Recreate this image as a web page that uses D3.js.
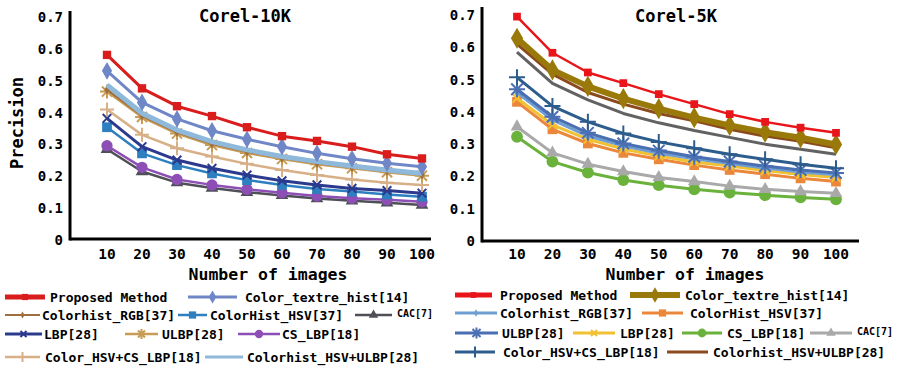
<!DOCTYPE html>
<html>
<head>
<meta charset="utf-8">
<script src="https://cdn.jsdelivr.net/npm/d3@7"></script>
<style>
  body { margin: 0; background: #fff; }
  svg { display: block; font-family: "DejaVu Sans Mono", monospace; font-weight: bold; }
</style>
</head>
<body>
<svg id="chart" width="899" height="370"></svg>
<script>
// number of retrieved images (x axis)
var imageCounts = [10, 20, 30, 40, 50, 60, 70, 80, 90, 100];
var precisionTicks = [0, 0.1, 0.2, 0.3, 0.4, 0.5, 0.6, 0.7];

// Corel-10K precision values
var c10Proposed   = [0.581, 0.476, 0.420, 0.389, 0.354, 0.326, 0.311, 0.293, 0.269, 0.256];
var c10Textre     = [0.531, 0.432, 0.380, 0.343, 0.316, 0.293, 0.272, 0.255, 0.241, 0.230];
var c10HsvUlbp    = [0.487, 0.398, 0.345, 0.309, 0.283, 0.262, 0.246, 0.232, 0.220, 0.209];
var c10RGB        = [0.472, 0.390, 0.338, 0.302, 0.277, 0.257, 0.241, 0.228, 0.216, 0.205];
var c10ULBP       = [0.466, 0.386, 0.334, 0.298, 0.273, 0.254, 0.238, 0.225, 0.213, 0.202];
var c10HsvCsLbp   = [0.410, 0.330, 0.288, 0.262, 0.239, 0.220, 0.204, 0.190, 0.180, 0.173];
var c10LBP        = [0.382, 0.293, 0.251, 0.225, 0.204, 0.186, 0.173, 0.162, 0.155, 0.147];
var c10HSV        = [0.354, 0.272, 0.235, 0.209, 0.188, 0.173, 0.160, 0.152, 0.143, 0.136];
var c10CsLbp      = [0.296, 0.228, 0.190, 0.173, 0.159, 0.148, 0.138, 0.131, 0.126, 0.120];
var c10CAC        = [0.285, 0.215, 0.180, 0.163, 0.150, 0.140, 0.130, 0.123, 0.117, 0.110];

// Corel-5K precision values
var c5Proposed    = [0.695, 0.583, 0.522, 0.489, 0.455, 0.424, 0.393, 0.369, 0.351, 0.335];
var c5Textre      = [0.628, 0.530, 0.479, 0.441, 0.410, 0.382, 0.358, 0.337, 0.320, 0.299];
var c5HsvUlbp     = [0.610, 0.517, 0.460, 0.424, 0.395, 0.372, 0.346, 0.325, 0.309, 0.289];
var c5Gray        = [0.585, 0.488, 0.437, 0.395, 0.366, 0.342, 0.321, 0.300, 0.284, 0.269];
var c5HsvCsLbp    = [0.507, 0.418, 0.369, 0.333, 0.307, 0.287, 0.269, 0.253, 0.238, 0.225];
var c5ULBP        = [0.470, 0.385, 0.335, 0.302, 0.280, 0.261, 0.246, 0.232, 0.220, 0.211];
var c5RGB         = [0.460, 0.375, 0.325, 0.295, 0.272, 0.255, 0.240, 0.226, 0.214, 0.205];
var c5LBP         = [0.442, 0.360, 0.315, 0.285, 0.263, 0.245, 0.232, 0.218, 0.206, 0.197];
var c5HSV         = [0.431, 0.346, 0.302, 0.273, 0.253, 0.235, 0.220, 0.207, 0.194, 0.184];
var c5CAC         = [0.354, 0.273, 0.238, 0.215, 0.197, 0.184, 0.170, 0.160, 0.153, 0.148];
var c5CsLbp       = [0.323, 0.246, 0.212, 0.189, 0.173, 0.160, 0.150, 0.142, 0.135, 0.129];

var svg = d3.select('#chart');

// stroke-only markers (plus, x, asterisk) drawn by hand
function strokeMarker(type, r) {
  var p = d3.path();
  if (type === 'plus' || type === 'asterisk') {
    p.moveTo(-r, 0); p.lineTo(r, 0);
    p.moveTo(0, -r); p.lineTo(0, r);
  }
  if (type === 'times' || type === 'asterisk') {
    var d = r * 0.72;
    p.moveTo(-d, -d); p.lineTo(d, d);
    p.moveTo(-d, d); p.lineTo(d, -d);
  }
  return p.toString();
}

var fillSymbols = {
  square: d3.symbolSquare,
  diamond: d3.symbolDiamond,
  circle: d3.symbolCircle,
  triangle: d3.symbolTriangle
};

function drawMarker(g, x, y, s) {
  if (!s.marker) return;
  if (fillSymbols[s.marker]) {
    g.append('path')
      .attr('transform', 'translate(' + x + ',' + y + ')')
      .attr('d', d3.symbol().type(fillSymbols[s.marker]).size(s.size)())
      .attr('fill', s.color);
  } else {
    g.append('path')
      .attr('transform', 'translate(' + x + ',' + y + ')')
      .attr('d', strokeMarker(s.marker, s.size))
      .attr('stroke', s.color)
      .attr('stroke-width', 2)
      .attr('fill', 'none');
  }
}

function drawPanel(panel) {
  var x = d3.scaleLinear().domain([10, 100]).range(panel.xRange);
  var y = d3.scaleLinear().domain([0, 0.7]).range(panel.yRange);
  var g = svg.append('g');

  // axes
  g.append('line')
    .attr('x1', panel.axisX).attr('y1', panel.axisTop)
    .attr('x2', panel.axisX).attr('y2', panel.axisY + 1.5)
    .attr('stroke', '#000').attr('stroke-width', 3);
  g.append('line')
    .attr('x1', panel.axisX).attr('y1', panel.axisY)
    .attr('x2', panel.axisRight).attr('y2', panel.axisY)
    .attr('stroke', '#000').attr('stroke-width', 3);

  g.selectAll('.ytick').data(precisionTicks).enter().append('text')
    .attr('x', panel.axisX - 7)
    .attr('y', function(d) { return y(d) + 5; })
    .attr('text-anchor', 'end')
    .attr('font-size', 14)
    .text(function(d) { return d === 0 ? '0' : d3.format('.1f')(d); });

  g.selectAll('.xtick').data(imageCounts).enter().append('text')
    .attr('x', function(d) { return x(d); })
    .attr('y', 259)
    .attr('text-anchor', 'middle')
    .attr('font-size', 14.5)
    .text(function(d) { return d; });

  g.append('text')
    .attr('x', panel.titleX).attr('y', 22)
    .attr('text-anchor', 'middle').attr('font-size', 17)
    .text(panel.title);

  g.append('text')
    .attr('x', panel.xLabelX).attr('y', 280)
    .attr('text-anchor', 'middle').attr('font-size', 16.5)
    .text('Number of images');

  if (panel.yLabel) {
    g.append('text')
      .attr('transform', 'translate(23,123) rotate(-90)')
      .attr('text-anchor', 'middle').attr('font-size', 17)
      .text(panel.yLabel);
  }

  var line = d3.line()
    .x(function(d, i) { return x(imageCounts[i]); })
    .y(function(d) { return y(d); });

  panel.series.forEach(function(s) {
    g.append('path')
      .attr('d', line(s.values))
      .attr('fill', 'none')
      .attr('stroke', s.color)
      .attr('stroke-width', s.width)
      .attr('stroke-linejoin', 'round');
    s.values.forEach(function(v, i) {
      drawMarker(g, x(imageCounts[i]), y(v), s);
    });
  });

  // legend
  panel.legend.forEach(function(item) {
    var s = panel.series.filter(function(d) { return d.name === item[0]; })[0];
    var ly = item[4];
    g.append('line')
      .attr('x1', item[1]).attr('y1', ly)
      .attr('x2', item[2]).attr('y2', ly)
      .attr('stroke', s.color)
      .attr('stroke-width', s.legendWidth || s.width);
    drawMarker(g, (item[1] + item[2]) / 2, ly, {
      marker: s.marker, color: s.color,
      size: s.marker && fillSymbols[s.marker] ? s.size * 0.55 : s.size * 0.7
    });
    var small = s.name === 'CAC[7]';
    g.append('text')
      .attr('x', item[3])
      .attr('y', ly + (small ? 2 : 5))
      .attr('font-size', small ? 10 : 13)
      .text(s.name);
  });
}

var panels = [
  {
    title: 'Corel-10K', titleX: 245, xLabelX: 268, yLabel: 'Precision',
    xRange: [107, 422], yRange: [240, 17],
    axisX: 70, axisTop: 11, axisY: 239, axisRight: 431,
    series: [
      { name: 'CAC[7]', values: c10CAC, color: '#4f4f57', width: 2.5, marker: 'triangle', size: 70 },
      { name: 'CS_LBP[18]', values: c10CsLbp, color: '#8d4fb6', width: 2.5, marker: 'circle', size: 100 },
      { name: 'ColorHist_HSV[37]', values: c10HSV, color: '#2d7fbf', width: 2.5, marker: 'square', size: 95 },
      { name: 'LBP[28]', values: c10LBP, color: '#2c3a8e', width: 3, marker: 'times', size: 6 },
      { name: 'Color_HSV+CS_LBP[18]', values: c10HsvCsLbp, color: '#d8b088', width: 2.5, marker: 'plus', size: 7 },
      { name: 'ULBP[28]', values: c10ULBP, color: '#c89c55', width: 2.5, marker: 'asterisk', size: 7 },
      { name: 'Colorhist_RGB[37]', values: c10RGB, color: '#a06f3e', width: 2, marker: 'diamond', size: 25 },
      { name: 'Colorhist_HSV+ULBP[28]', values: c10HsvUlbp, color: '#8fb9da', width: 5, legendWidth: 3 },
      { name: 'Color_textre_hist[14]', values: c10Textre, color: '#6f87c6', width: 3, marker: 'diamond', size: 90 },
      { name: 'Proposed Method', values: c10Proposed, color: '#d91c1c', width: 3, legendWidth: 5, marker: 'square', size: 70 }
    ],
    legend: [
      ['Proposed Method', 5, 45, 50, 297],
      ['Color_textre_hist[14]', 188, 237, 245, 297],
      ['Colorhist_RGB[37]', 5, 40, 42, 315],
      ['ColorHist_HSV[37]', 178, 207, 210, 315],
      ['CAC[7]', 355, 392, 397, 315],
      ['LBP[28]', 5, 42, 44, 334],
      ['ULBP[28]', 125, 158, 162, 334],
      ['CS_LBP[18]', 238, 280, 282, 334],
      ['Color_HSV+CS_LBP[18]', 5, 40, 45, 357],
      ['Colorhist_HSV+ULBP[28]', 205, 243, 247, 357]
    ]
  },
  {
    title: 'Corel-5K', titleX: 676, xLabelX: 685, yLabel: null,
    xRange: [517, 836], yRange: [241, 15],
    axisX: 482, axisTop: 7, axisY: 241, axisRight: 859,
    series: [
      { name: 'CS_LBP[18]', values: c5CsLbp, color: '#6bb23d', width: 3, marker: 'circle', size: 110 },
      { name: 'CAC[7]', values: c5CAC, color: '#a9a9a9', width: 3, marker: 'triangle', size: 70 },
      { name: 'ColorHist_HSV[37]', values: c5HSV, color: '#eb873a', width: 3, marker: 'square', size: 95 },
      { name: 'LBP[28]', values: c5LBP, color: '#f2c132', width: 3, marker: 'times', size: 6 },
      { name: 'Colorhist_RGB[37]', values: c5RGB, color: '#6f9fd2', width: 3, marker: 'diamond', size: 30 },
      { name: 'ULBP[28]', values: c5ULBP, color: '#4a6fb2', width: 3, marker: 'asterisk', size: 8 },
      { name: 'Color_HSV+CS_LBP[18]', values: c5HsvCsLbp, color: '#2d5d8c', width: 3, marker: 'plus', size: 8 },
      { name: 'gray', values: c5Gray, color: '#626262', width: 3 },
      { name: 'Colorhist_HSV+ULBP[28]', values: c5HsvUlbp, color: '#8a4a1d', width: 3 },
      { name: 'Color_textre_hist[14]', values: c5Textre, color: '#9a790b', width: 6, marker: 'diamond', size: 130 },
      { name: 'Proposed Method', values: c5Proposed, color: '#e8161a', width: 2.5, legendWidth: 5, marker: 'square', size: 60 }
    ],
    legend: [
      ['Proposed Method', 455, 492, 500, 295],
      ['Color_textre_hist[14]', 630, 680, 685, 295],
      ['Colorhist_RGB[37]', 455, 497, 500, 313],
      ['ColorHist_HSV[37]', 642, 683, 690, 313],
      ['ULBP[28]', 455, 498, 502, 333],
      ['LBP[28]', 573, 615, 620, 333],
      ['CS_LBP[18]', 682, 722, 727, 333],
      ['CAC[7]', 810, 852, 857, 333],
      ['Color_HSV+CS_LBP[18]', 455, 495, 503, 352],
      ['Colorhist_HSV+ULBP[28]', 667, 708, 713, 352]
    ]
  }
];

panels.forEach(drawPanel);
</script>
</body>
</html>
